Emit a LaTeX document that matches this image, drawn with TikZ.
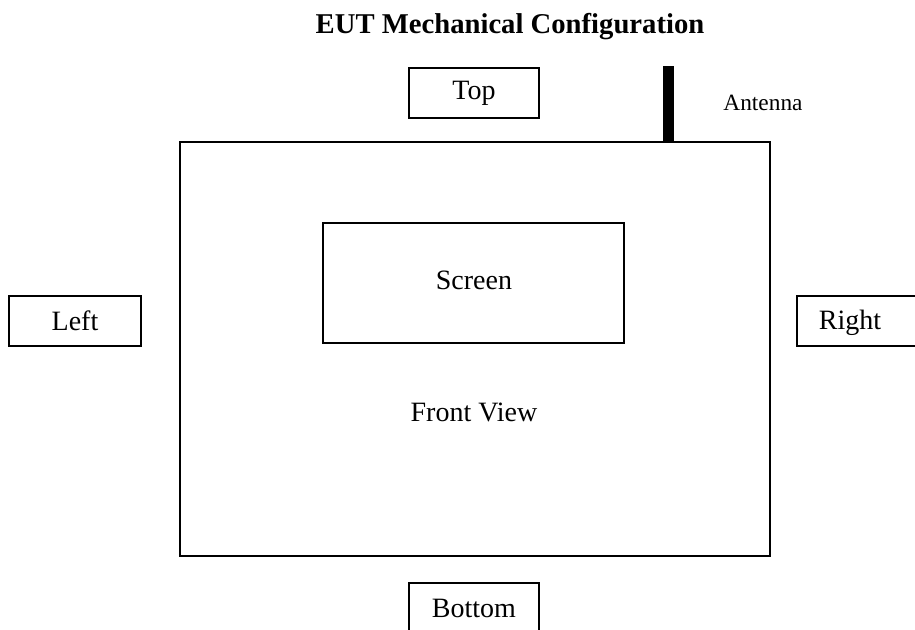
\documentclass[tikz,border=0pt]{standalone}
\usepackage{fontspec}
\setmainfont{Liberation Serif}
\begin{document}
\begin{tikzpicture}[x=0.75pt,y=-0.75pt,
  box/.style={draw=black,line width=1.2pt,inner sep=0pt,font=\fontsize{21}{25}\selectfont},
  lbl/.style={inner sep=0pt,font=\fontsize{21}{25}\selectfont}]
\useasboundingbox (0,0) rectangle (915,630);
\fill[white] (0,0) rectangle (915,630);
\clip (0,0) rectangle (915,630);
% title
\node[inner sep=0pt,font=\fontsize{21.5}{25}\selectfont\bfseries] (title) at (510,27) {EUT Mechanical Configuration};
% main body
\node[draw=black,line width=1.4pt,minimum width=442.5pt,minimum height=310.5pt,inner sep=0pt] (body) at (475,349) {};
% screen
\node[box,minimum width=225.75pt,minimum height=90pt] (screen) at (473.5,283) {};
\node[lbl] (screentxt) at (474,280) {Screen};
\node[lbl] (front) at (474,412) {Front View};
% antenna
\node[fill=black,inner sep=0pt,minimum width=8.25pt,minimum height=57pt,anchor=south] (ant) at (668.5,142) {};
\node[inner sep=0pt,font=\fontsize{17.5}{21}\selectfont] (anttxt) at (763,103) {Antenna};
% orientation boxes
\node[box,minimum width=97.5pt,minimum height=37.5pt] (top) at (474,93) {Top};
\node[box,minimum width=99pt,minimum height=37.5pt] (left) at (75,321) {Left};
\node[box,minimum width=100pt,minimum height=37.5pt,anchor=west] (right) at (796,321) {};
\node[lbl,anchor=base] (righttxt) at (850,330) {Right};
\node[box,minimum width=97.5pt,minimum height=37.5pt] (bottom) at (474,608) {Bottom};
\end{tikzpicture}
\end{document}
